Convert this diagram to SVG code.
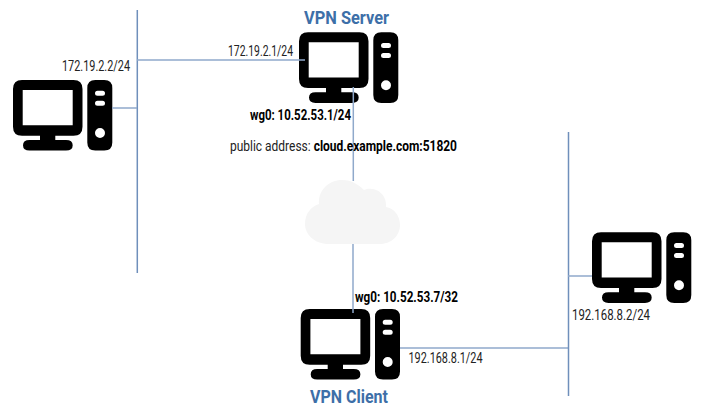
<svg xmlns="http://www.w3.org/2000/svg" width="708" height="415" viewBox="0 0 708 415">
<style>
text{font-family:"Roboto","Liberation Sans",sans-serif;font-size:14.500px;font-weight:400;fill:#222}
.b{font-weight:700;font-size:14.500px;fill:#000}
.t{font-weight:700;font-size:18px;fill:#3d6fa8}
.l{stroke:#8fa9cb;stroke-width:1.500;fill:none}
.v{stroke:#6f8fbb;stroke-width:1.500;fill:none}
</style>
<defs>
<g id="pc">
<path fill-rule="evenodd" d="M9 0H60.500Q69.500 0 69.500 9V46.700Q69.500 55.700 60.500 55.700H42.300V60H53Q59.700 60 59.700 65.300Q59.700 70.600 53 70.600H16.500Q10 70.600 10 65.300Q10 60 16.500 60H27V55.700H9Q0 55.700 0 46.700V9Q0 0 9 0ZM9.700 10V45.300H59.700V10Z"/>
<path fill-rule="evenodd" d="M82.300 0H91.300Q99.300 0 99.300 8V62.600Q99.300 70.600 91.300 70.600H82.300Q74.300 70.600 74.300 62.600V8Q74.300 0 82.300 0ZM84.500 10.700a2.500 2.500 0 0 0 0 5h5a2.500 2.500 0 0 0 0-5ZM84.500 20.700a2.500 2.500 0 0 0 0 5h5a2.500 2.500 0 0 0 0-5ZM87 48a5 5 0 1 0 0 10a5 5 0 0 0 0-10Z"/>
</g>
</defs>
<g id="node-left"><use href="#pc" x="13" y="80"/></g>
<g id="node-server"><use href="#pc" x="299" y="32.300"/></g>
<g id="node-client"><use href="#pc" x="300.700" y="309"/></g>
<g id="node-right"><use href="#pc" x="592" y="232.300"/></g>
<g id="connectors">
<path class="v" d="M137.300 10V273"/>
<path class="l" d="M137 60H305"/>
<path class="l" d="M112 108H137"/>
<path class="l" d="M353.300 87V181"/>
<path class="l" d="M353 244V313"/>
<path class="l" d="M400 348H568"/>
<path class="v" d="M568.500 132V396"/>
<path class="l" d="M568 276H592"/>
</g>
<g id="node-cloud"><path fill="#f5f5f5" d="M329 244C314 244 305 234 305 224C305 213 312 206 319 204C318 190 329 180 342 180C352 180 359 185 364 190C370 187 380 189 384 197C386 200 386 204 386 207C394 208 400 216 400 225C400 235 392 244 380 244Z"/></g>
<g id="labels">
<text x="62" y="71" textLength="68" lengthAdjust="spacingAndGlyphs">172.19.2.2/24</text>
<text x="228" y="56" textLength="65" lengthAdjust="spacingAndGlyphs">172.19.2.1/24</text>
<text class="t" x="304" y="24" textLength="85" lengthAdjust="spacingAndGlyphs">VPN Server</text>
<text class="b" x="250" y="120" textLength="101" lengthAdjust="spacingAndGlyphs">wg0: 10.52.53.1/24</text>
<text x="230" y="151" textLength="227" lengthAdjust="spacingAndGlyphs">public address: <tspan class="b">cloud.example.com:51820</tspan></text>
<text class="b" x="355" y="302" textLength="103" lengthAdjust="spacingAndGlyphs">wg0: 10.52.53.7/32</text>
<text x="408.500" y="363" textLength="74" lengthAdjust="spacingAndGlyphs">192.168.8.1/24</text>
<text x="572" y="320" textLength="78" lengthAdjust="spacingAndGlyphs">192.168.8.2/24</text>
<text class="t" x="310" y="403" textLength="78" lengthAdjust="spacingAndGlyphs">VPN Client</text>
</g>
</svg>
